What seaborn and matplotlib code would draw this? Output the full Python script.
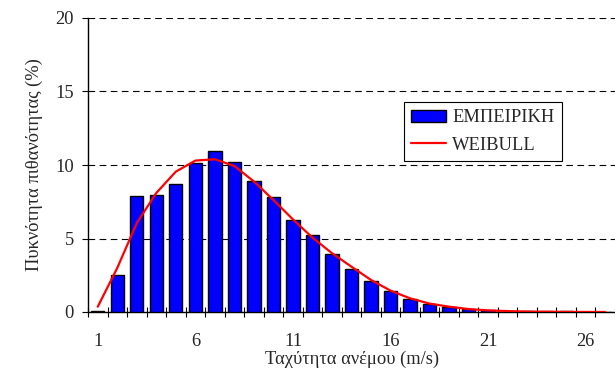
import numpy as np
import pandas as pd
import matplotlib
matplotlib.use('Agg')
import matplotlib.pyplot as plt
import seaborn as sns
from matplotlib.ticker import FixedLocator

# wind speed classes (m/s)
speeds = list(range(1, 28))
# empirical frequency (%)
empirical = [0.1, 2.5, 7.87, 7.96, 8.7, 10.16, 10.95, 10.2, 8.92, 7.8, 6.24, 5.26, 3.97,
             2.9, 2.1, 1.43, 0.88, 0.52, 0.33, 0.22, 0.13, 0.08, 0.05, 0.04, 0.04, 0.03, 0.03]
# fitted weibull (%)
weibull = [0.36, 3.0, 6.05, 8.1, 9.55, 10.3, 10.39, 9.93, 8.88, 7.62, 6.3, 5.06, 4.0,
           3.08, 2.18, 1.45, 0.93, 0.57, 0.36, 0.2, 0.11, 0.06, 0.03, 0.015, 0.008, 0.004, 0.002]
xtick_labels = [1, 6, 11, 16, 21, 26]
ytick_values = [0, 5, 10, 15, 20]

sns.set_style('white')
plt.rcParams['font.family'] = ['Liberation Serif', 'DejaVu Serif']
fs = 13.3

data = pd.DataFrame({'speed': speeds, 'emp': empirical, 'weib': weibull})

fig = plt.figure(figsize=(6.15, 3.74), dpi=100)
ax = fig.add_axes([88 / 615, 1 - 312 / 374, 1 - 88 / 615, (312 - 18) / 374])

sns.barplot(data=data, x='speed', y='emp', native_scale=True, color='#0000FF',
            saturation=1, width=0.68, edgecolor='black', linewidth=1,
            label='ΕΜΠΕΙΡΙΚΗ', ax=ax, zorder=3)
sns.lineplot(data=data, x='speed', y='weib', color='#FF0000', linewidth=1.6,
             label='WEIBULL', ax=ax, zorder=4)

for y in ytick_values[1:]:
    ax.axhline(y, color='black', lw=0.8, ls=(0, (6, 4)), zorder=1)

ax.set_xlim(0.5, 27.5)
ax.set_ylim(0, 20)
ax.set_yticks(ytick_values)
ax.set_xticks(xtick_labels)
ax.set_xticklabels([str(v) for v in xtick_labels])
ax.xaxis.set_minor_locator(FixedLocator(np.arange(0.5, 28, 1)))
ax.tick_params(axis='x', which='major', length=0, pad=15, labelsize=fs)
ax.tick_params(axis='x', which='minor', length=7, direction='inout', width=0.8,
               bottom=True, color='black')
ax.tick_params(axis='y', length=4, width=0.8, direction='out', pad=6,
               labelsize=fs, left=True, color='black')

for s in ['top', 'right']:
    ax.spines[s].set_visible(False)
for s in ['left', 'bottom']:
    ax.spines[s].set_color('black')
    ax.spines[s].set_linewidth(1.0)

ax.set_xlabel('Ταχύτητα ανέμου (m/s)', fontsize=fs)
ax.set_ylabel('Πυκνότητα πιθανότητας (%)', fontsize=fs)
ax.xaxis.set_label_coords((352 - 88) / 527, (312 - 351) / 294)
ax.yaxis.set_label_coords((43 - 88) / 527, 0.5)

handles, labels = ax.get_legend_handles_labels()
order = [labels.index('ΕΜΠΕΙΡΙΚΗ'), labels.index('WEIBULL')]
leg = ax.legend([handles[i] for i in order], [labels[i] for i in order],
                loc='upper left', bbox_to_anchor=(404 / 615, 1 - 102 / 374),
                bbox_transform=fig.transFigure, frameon=True, fancybox=False,
                edgecolor='black', framealpha=1, fontsize=fs, handlelength=1.9,
                handleheight=0.65, handletextpad=0.3, borderpad=0.4,
                labelspacing=0.55, borderaxespad=0)
leg.get_frame().set_linewidth(0.8)

fig.savefig('out.png', dpi=100)
